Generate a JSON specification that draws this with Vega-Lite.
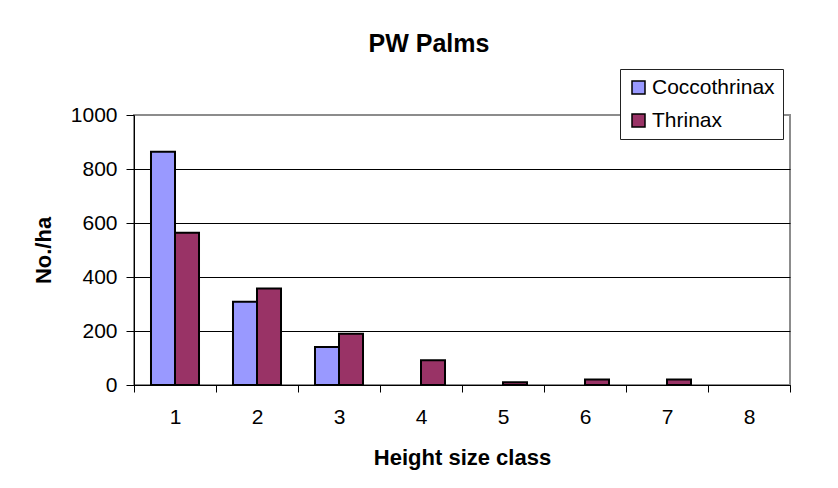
{
  "$schema": "https://vega.github.io/schema/vega-lite/v6.json",
  "autosize": {"type": "none"},
  "padding": {"left": 134, "top": 115, "right": 48, "bottom": 103},
  "width": 656,
  "height": 270,
  "background": "white",
  "title": {
    "text": "PW Palms",
    "font": "Liberation Sans",
    "fontSize": 25,
    "fontWeight": "bold",
    "color": "#000",
    "anchor": "middle",
    "dx": -33,
    "baseline": "alphabetic",
    "offset": -8
  },
  "data": {
    "values": [
      {"cls": "1", "series": "Coccothrinax", "value": 864},
      {"cls": "1", "series": "Thrinax", "value": 564},
      {"cls": "2", "series": "Coccothrinax", "value": 308},
      {"cls": "2", "series": "Thrinax", "value": 357},
      {"cls": "3", "series": "Coccothrinax", "value": 141},
      {"cls": "3", "series": "Thrinax", "value": 190},
      {"cls": "4", "series": "Coccothrinax", "value": 0},
      {"cls": "4", "series": "Thrinax", "value": 92},
      {"cls": "5", "series": "Coccothrinax", "value": 0},
      {"cls": "5", "series": "Thrinax", "value": 10},
      {"cls": "6", "series": "Coccothrinax", "value": 0},
      {"cls": "6", "series": "Thrinax", "value": 20},
      {"cls": "7", "series": "Coccothrinax", "value": 0},
      {"cls": "7", "series": "Thrinax", "value": 20},
      {"cls": "8", "series": "Coccothrinax", "value": 0},
      {"cls": "8", "series": "Thrinax", "value": 0}
    ]
  },
  "transform": [{"filter": "datum.value > 0"}],
  "mark": {"type": "bar", "stroke": "#000", "strokeWidth": 2},
  "encoding": {
    "x": {
      "field": "cls",
      "type": "ordinal",
      "scale": {"domain": ["1", "2", "3", "4", "5", "6", "7", "8"], "paddingInner": 0, "paddingOuter": 0},
      "axis": {
        "title": "Height size class",
        "labelAngle": 0,
        "tickBand": "extent",
        "tickSize": 7,
        "tickColor": "#000",
        "domainColor": "#000",
        "domainWidth": 1,
        "labelPadding": 14,
        "labelFont": "Liberation Sans",
        "labelFontSize": 21,
        "labelColor": "#000",
        "titleFont": "Liberation Sans",
        "titleFontSize": 22,
        "titleFontWeight": "bold",
        "titleColor": "#000",
        "titlePadding": 20
      }
    },
    "xOffset": {
      "field": "series",
      "type": "nominal",
      "scale": {"domain": ["Coccothrinax", "Thrinax"], "paddingInner": 0, "paddingOuter": 0.708}
    },
    "y": {
      "field": "value",
      "type": "quantitative",
      "scale": {"domain": [0, 1000], "nice": false},
      "axis": {
        "title": "No./ha",
        "values": [0, 200, 400, 600, 800, 1000],
        "format": "d",
        "grid": true,
        "gridColor": {"condition": {"test": "datum.value === 1000", "value": "#8c8c8c"}, "value": "#000"},
        "gridWidth": 1,
        "tickSize": 8,
        "tickColor": "#000",
        "domainColor": "#000",
        "labelPadding": 9,
        "labelFont": "Liberation Sans",
        "labelFontSize": 21,
        "labelColor": "#000",
        "titleFont": "Liberation Sans",
        "titleFontSize": 22,
        "titleFontWeight": "bold",
        "titleColor": "#000",
        "titlePadding": 15
      }
    },
    "color": {
      "field": "series",
      "type": "nominal",
      "scale": {"domain": ["Coccothrinax", "Thrinax"], "range": ["#9999FF", "#993366"]},
      "legend": {
        "title": null,
        "orient": "none",
        "legendX": 486,
        "legendY": -46,
        "direction": "vertical",
        "fillColor": "white",
        "strokeColor": "#222",
        "padding": 8,
        "symbolType": "square",
        "symbolSize": 169,
        "symbolStrokeColor": "#000",
        "symbolStrokeWidth": 1.5,
        "symbolOpacity": 1,
        "labelFont": "Liberation Sans",
        "labelFontSize": 21,
        "labelColor": "#000",
        "labelOffset": 3,
        "rowPadding": 11
      }
    }
  },
  "config": {
    "view": {"stroke": "#8c8c8c", "strokeWidth": 2}
  }
}
